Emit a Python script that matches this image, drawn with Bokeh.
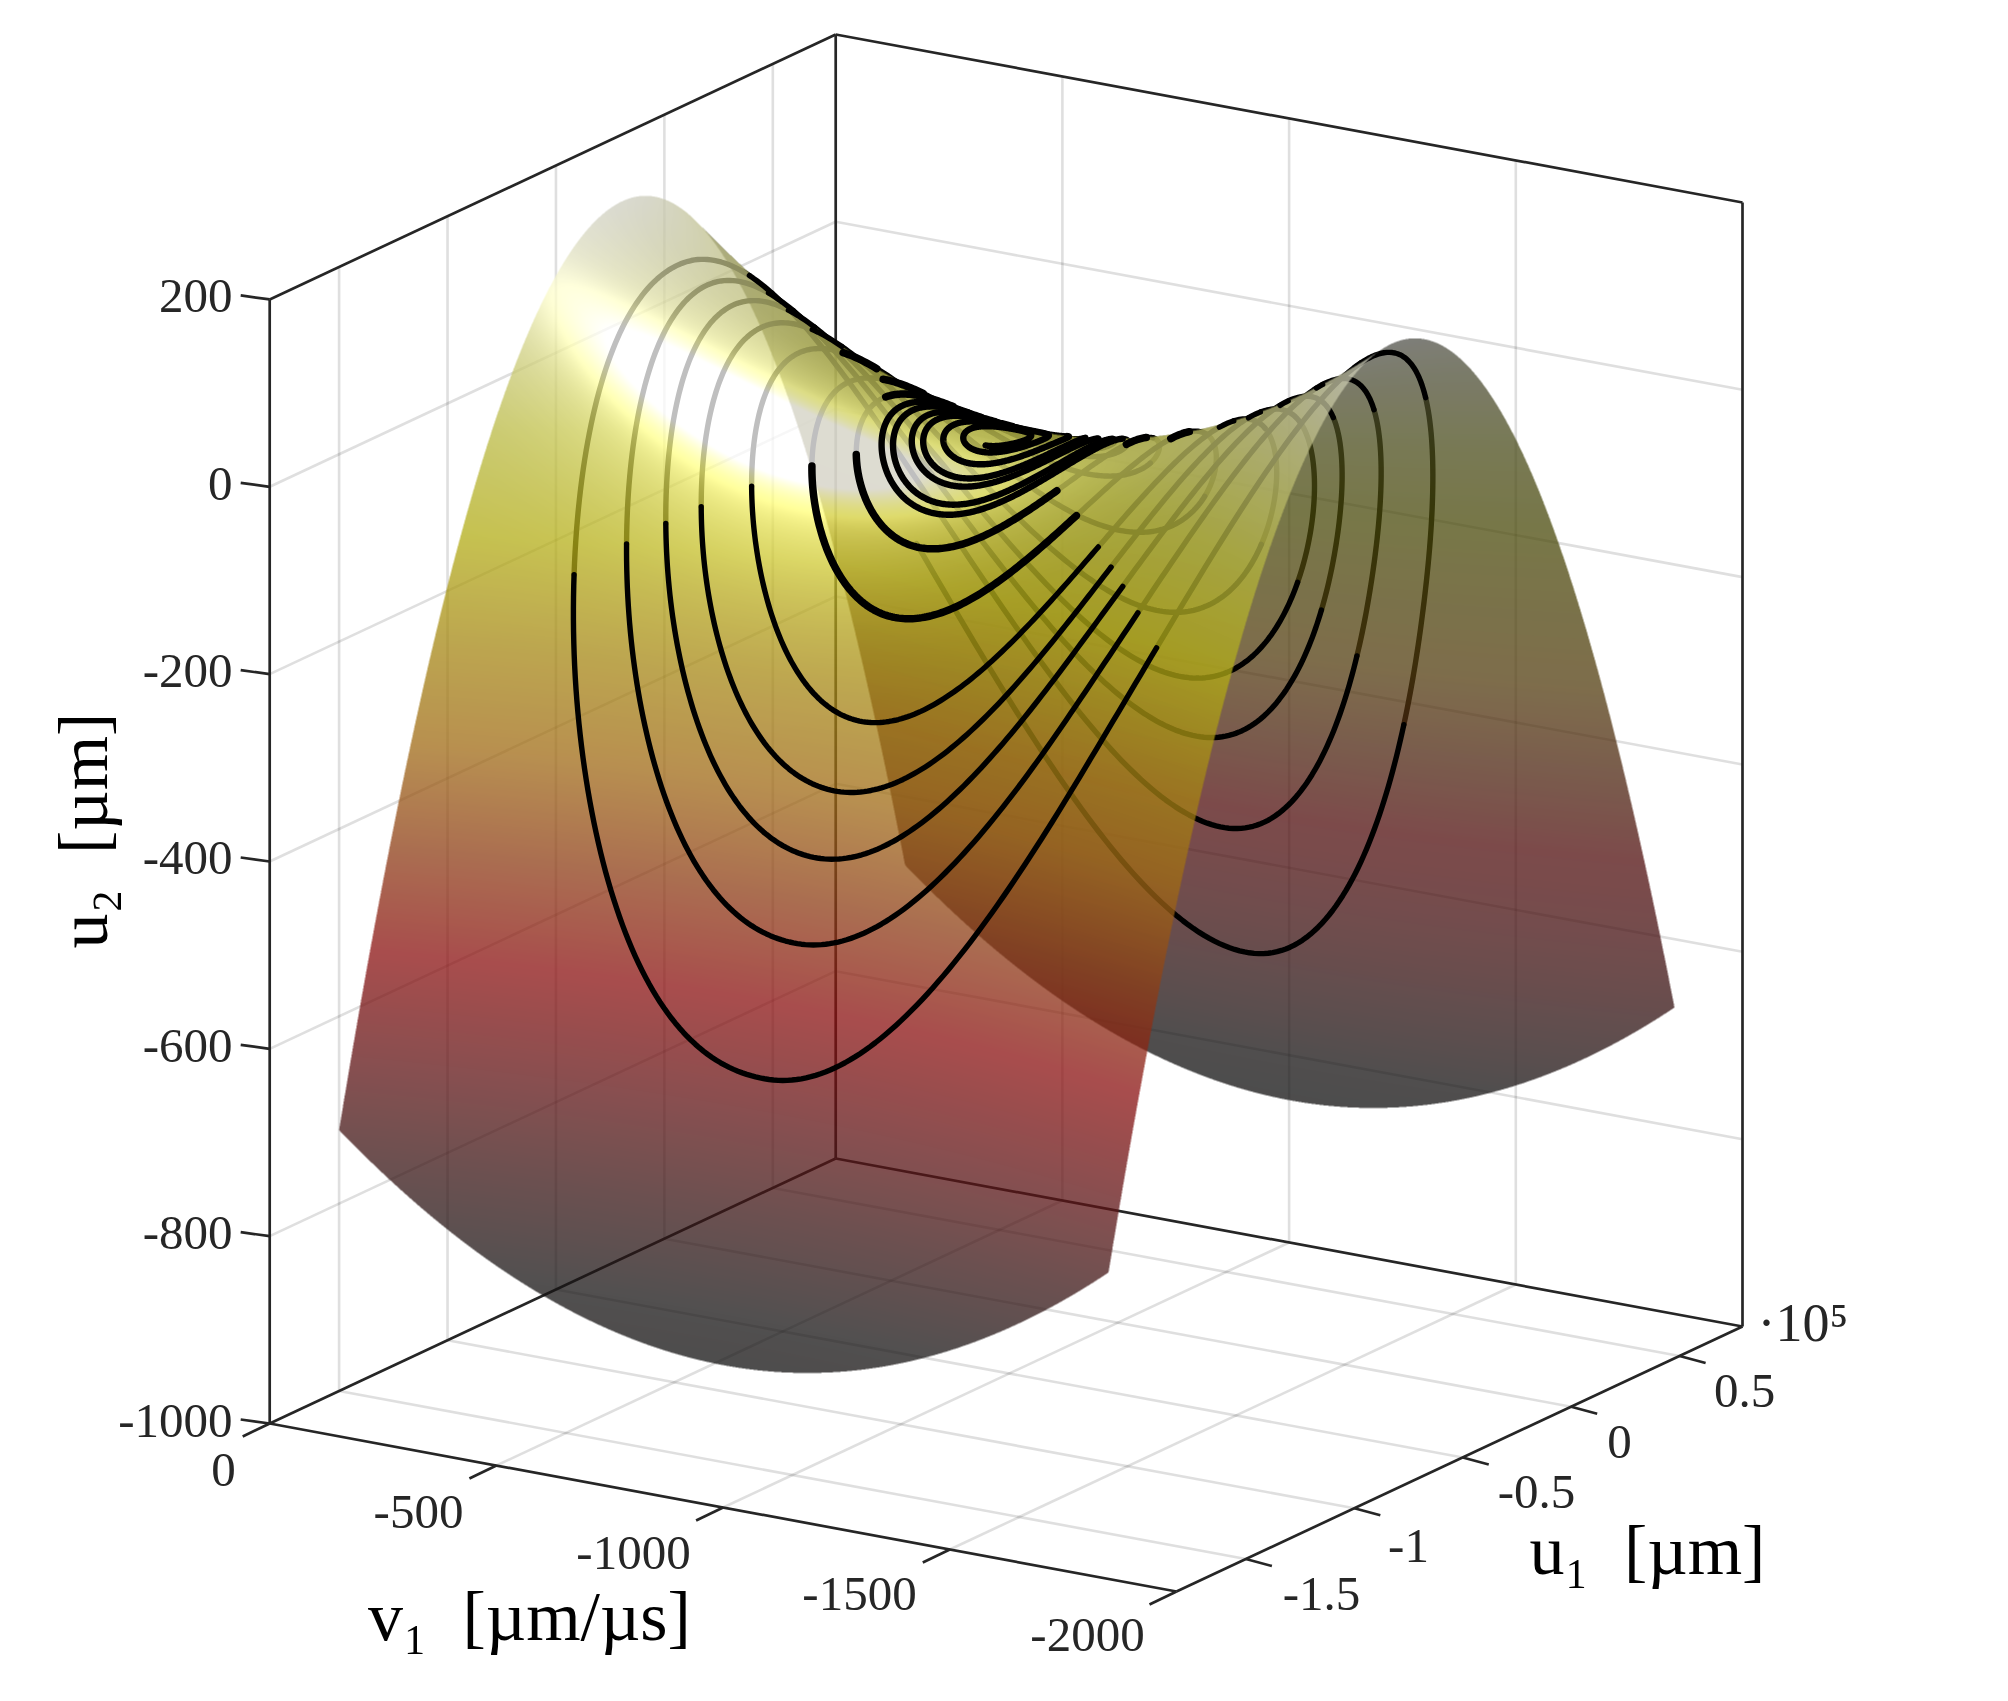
import numpy as np
from bokeh.plotting import figure
from bokeh.core.properties import value
from bokeh.embed import file_html
from bokeh.resources import INLINE

# ---- axis values -------------------------------------------------------
u2_ticks = [200, 0, -200, -400, -600, -800, -1000]
v1_ticks = [0, -500, -1000, -1500, -2000]
u1_ticks = [-1.5, -1.0, -0.5, 0.0, 0.5]          # x 1e5
u2_labels = ["200", "0", "-200", "-400", "-600", "-800", "-1000"]
v1_labels = ["0", "-500", "-1000", "-1500", "-2000"]
u1_labels = ["-1.5", "-1", "-0.5", "0", "0.5"]
u1_lim = (-1.82, 0.79)
v1_lim = (0.0, -2000.0)
u2_lim = (-1000.0, 200.0)

# ---- surface: u2 = ridge(u1) + dip(v1) ----------------------------------
surf_u1 = [-1.82, -1.559, -1.298, -1.037, -0.776, -0.515, -0.254, 0.007, 0.268, 0.529, 0.79]
surf_ridge = [-673, -367, -129, 41, 143, 177, 143, 41, -129, -367, -673]
surf_v1 = [-153, -323, -492, -662, -832, -1001, -1171, -1341, -1510, -1680, -1850]
surf_dip = [0, -63, -112, -147, -168, -175, -168, -147, -112, -63, 0]

# surface colour by height
cmap_u2 = [-900, -800, -700, -600, -500, -400, -300, -200, -100, 0, 100, 200]
cmap_r = [13, 24, 59, 99, 139, 142, 160, 166, 178, 181, 190, 208]
cmap_g = [13, 21, 23, 20, 17, 61, 106, 136, 172, 181, 190, 208]
cmap_b = [13, 21, 23, 21, 17, 22, 21, 20, 22, 64, 130, 208]
far_u2 = [-900, -700, -500, -300, -100, 200]
far_gain = [1.0, 0.8, 0.58, 0.52, 0.42, 0.41]
far_lift = [0, 1, 5, 5, 2, 0]

# ---- trajectory on the surface: radius read every 45 deg of its turning --
orbit_start_deg = -45.0
orbit_radius = [
    .45,
    .447, .425, .445, .42, .41, .43, .38, .385,
    .395, .375, .39, .37, .36, .375, .35, .352,
    .352, .338, .345, .33, .325, .335, .32, .32,
    .32, .313, .306, .30, .295, .30, .285, .282,
    .28, .275, .27, .265, .26, .25, .24, .23,
    .22, .215, .21, .205, .20, .19, .18, .17,
    .16, .158, .155, .152, .15, .145, .14, .135,
    .13, .127, .125, .122, .12, .119, .118, .116,
    .115, .114, .113, .111, .11, .108, .105, .102,
    .10, .098, .095, .092, .09, .089, .088, .086,
    .085, .084, .083, .081, .08, .078, .075, .072,
    .07, .068, .065, .062, .06, .058, .055, .052,
    .05, .048, .045, .042, .04, .038, .036, .034,
    .032, .03, .03, .028, .028]
orbit_u1_centre, orbit_v1_centre = -0.515, -989.0
orbit_u1_half, orbit_v1_half = 2.61, 1835.0

# ---- page mapping: the 3D box as it stands in the picture ---------------
X0, Y0 = 270.2, 1424.0      # corner v1=0, u1=min, u2=-1000
VX, VY = 906.8, 168.0       # full length of v1 axis
UX, UY = 566.0, -265.0      # full length of u1 axis
ZK = 0.9367                 # px per u2 unit

def proj(u1, v1, u2):
    a = (np.asarray(u1, float) - u1_lim[0]) / (u1_lim[1] - u1_lim[0])
    b = np.asarray(v1, float) / v1_lim[1]
    return X0 + VX * b + UX * a, -(Y0 + VY * b + UY * a - ZK * (np.asarray(u2, float) - u2_lim[0]))

W, H = 1992, 1685
p = figure(width=W, height=H, x_range=(1, 1 + W), y_range=(-(1 + H), -1),
           output_backend="svg", toolbar_location=None, min_border=0)
p.axis.visible = False
p.grid.visible = False
p.outline_line_color = None
p.background_fill_color = "white"

INK = "#262626"

def seg(a, b, **kw):
    x0, y0 = proj(*a)
    x1, y1 = proj(*b)
    p.line([float(x0), float(x1)], [float(y0), float(y1)], **kw)

GRID = dict(line_color=INK, line_alpha=0.15, line_width=2.6)
ulo, uhi = u1_lim
vlo, vhi = v1_lim
zlo, zhi = u2_lim
for z in u2_ticks[:-1]:
    if z == 200:
        continue
    seg((ulo, 0, z), (uhi, 0, z), **GRID)
    seg((uhi, 0, z), (uhi, vhi, z), **GRID)
for u in u1_ticks:
    seg((u, 0, zlo), (u, 0, zhi), **GRID)
    seg((u, 0, zlo), (u, vhi, zlo), **GRID)
for v in v1_ticks[1:-1]:
    seg((uhi, v, zlo), (uhi, v, zhi), **GRID)
    seg((ulo, v, zlo), (uhi, v, zlo), **GRID)

AX = dict(line_color=INK, line_width=2.7)
for a, b in [((ulo, 0, zlo), (ulo, 0, zhi)), ((ulo, 0, zhi), (uhi, 0, zhi)),
             ((uhi, 0, zhi), (uhi, vhi, zhi)), ((uhi, vhi, zhi), (uhi, vhi, zlo)),
             ((uhi, 0, zhi), (uhi, 0, zlo)), ((ulo, 0, zlo), (uhi, 0, zlo)),
             ((uhi, 0, zlo), (uhi, vhi, zlo)), ((ulo, 0, zlo), (ulo, vhi, zlo)),
             ((ulo, vhi, zlo), (uhi, vhi, zlo))]:
    seg(a, b, **AX)

# ---- tick marks ---------------------------------------------------------
for z in u2_ticks:
    x, y = proj(ulo, 0, z)
    p.line([float(x), float(x) - 29], [float(y), float(y) + 4], **AX)
for v in v1_ticks:
    x, y = proj(ulo, v, zlo)
    p.line([float(x), float(x) - 27], [float(y), float(y) - 13], **AX)
for u in u1_ticks:
    x, y = proj(u, vhi, zlo)
    p.line([float(x), float(x) + 26], [float(y), float(y) - 7], **AX)

# ---- quadratic coefficients of the surface, fitted to the read tables ----
sg = (np.array(surf_u1) - surf_u1[0]) / (surf_u1[-1] - surf_u1[0])
tg = (np.array(surf_v1) - surf_v1[0]) / (surf_v1[-1] - surf_v1[0])
h2, h1, h0 = np.polyfit(sg, surf_ridge, 2)
g2, g1, g0 = np.polyfit(tg, surf_dip, 2)
h0 = h0 + g0

ax0, ay0 = proj(surf_u1[0], surf_v1[0], 0.0)
ax1, ay1 = proj(surf_u1[-1], surf_v1[0], 0.0)
bx1, by1 = proj(surf_u1[0], surf_v1[-1], 0.0)
PX0, PY0 = float(ax0), -float(ay0)
Ua, Uc = float(ax1 - ax0), -float(ay1 - ay0)
Vb, Vd = float(bx1 - ax0), -float(by1 - ay0)
e = Ua / Vb

def colours(z):
    return (np.interp(z, cmap_u2, cmap_r), np.interp(z, cmap_u2, cmap_g), np.interp(z, cmap_u2, cmap_b))

def surface_layers(xmin, xmax, ymin, ymax, ss=2):
    xs = xmin + (np.arange((xmax - xmin) * ss) + 0.5) / ss
    ys = ymin + (np.arange((ymax - ymin) * ss) + 0.5) / ss
    XX, YY = np.meshgrid(xs, ys)
    tau = (XX - PX0) / Vb
    Q2 = -ZK * (h2 + g2 * e * e)
    Q1 = Uc - Vd * e - ZK * h1 + ZK * g1 * e + 2 * ZK * g2 * tau * e
    Q0 = PY0 + Vd * tau - ZK * h0 - ZK * g1 * tau - ZK * g2 * tau * tau - YY
    D = Q1 * Q1 - 4 * Q2 * Q0
    ok = D >= 0
    root = np.sqrt(np.where(ok, D, 0.0))
    out = []
    for sign in (-1.0, 1.0):
        s = (-Q1 + sign * root) / (2 * Q2)
        t = tau - e * s
        m = ok & (s >= 0) & (s <= 1) & (t >= 0) & (t <= 1)
        z = h0 + h1 * s + h2 * s * s + g1 * t + g2 * t * t
        r, g, b = colours(z)
        if sign < 0:
            s0 = 0.37 + 0.09 * t
            glare = (1.5 * 255 * np.exp(-((s - s0) / 0.03) ** 2) * np.exp(-((t - 0.27) / 0.17) ** 2)
                     + 0.38 * 255 * np.exp(-((s - s0) / 0.08) ** 2) * np.exp(-((t - 0.32) / 0.28) ** 2))
            r, g, b = np.minimum(r + glare, 255), np.minimum(g + glare, 255), np.minimum(b + glare, 255)
        else:
            f = np.interp(z, far_u2, far_gain)
            lift = np.interp(z, far_u2, far_lift)
            r, g, b = r * f, g * f + lift, b * f + lift
        a = m * 0.75
        stack = np.stack([r * a, g * a, b * a, a], axis=-1)
        h_, w_ = stack.shape[:2]
        stack = stack.reshape(h_ // ss, ss, w_ // ss, ss, 4).mean(axis=(1, 3))
        alpha = stack[..., 3]
        safe = np.where(alpha > 0, alpha, 1.0)
        rgba = np.zeros(alpha.shape + (4,), dtype=np.uint8)
        for i in range(3):
            rgba[..., i] = np.clip(stack[..., i] / safe, 0, 255).astype(np.uint8)
        rgba[..., 3] = np.clip(alpha * 255, 0, 255).astype(np.uint8)
        out.append(rgba)
    return out

bx0_, bx1_, by0_, by1_ = 320, 1700, 180, 1390
near_img, far_img = surface_layers(bx0_, bx1_, by0_, by1_)

def add_image(rgba):
    flat = rgba[::-1].copy()
    view = np.frombuffer(flat.tobytes(), dtype=np.uint32).reshape(flat.shape[:2]).copy()
    p.image_rgba(image=[view], x=[bx0_], y=[-by1_], dw=[bx1_ - bx0_], dh=[by1_ - by0_])

# ---- trajectory: a smooth stroke through the read radii ------------------
def smooth_through(q, nodes, vals):
    # Catmull-Rom between the read nodes, so the stroke has no corners
    v = np.asarray(vals, float)
    step = nodes[1] - nodes[0]
    i = np.clip(((q - nodes[0]) / step).astype(int), 0, len(v) - 2)
    f = (q - nodes[i]) / step
    vm = v[np.maximum(i - 1, 0)]
    v0 = v[i]
    v1 = v[i + 1]
    v2 = v[np.minimum(i + 2, len(v) - 1)]
    return 0.5 * (2 * v0 + (v1 - vm) * f + (2 * vm - 5 * v0 + 4 * v1 - v2) * f ** 2 + (3 * v0 - vm - 3 * v1 + v2) * f ** 3)

angle_nodes = orbit_start_deg + 45.0 * np.arange(len(orbit_radius))
theta = np.arange(-45.0, angle_nodes[-1], 0.75)
rad = smooth_through(theta, angle_nodes, orbit_radius)
u1o = orbit_u1_centre + orbit_u1_half * rad * np.cos(np.radians(theta))
v1o = orbit_v1_centre - orbit_v1_half * rad * np.sin(np.radians(theta))
so = (u1o - surf_u1[0]) / (surf_u1[-1] - surf_u1[0])
to = (v1o - surf_v1[0]) / (surf_v1[-1] - surf_v1[0])
zo = h0 + h1 * so + h2 * so * so + g1 * to + g2 * to * to
xo, yo = proj(u1o, v1o, zo)
tauo = (xo - PX0) / Vb
slope = 2 * (-ZK * (h2 + g2 * e * e)) * so + (Uc - Vd * e - ZK * h1 + ZK * g1 * e + 2 * ZK * g2 * tauo * e)
is_near = slope < 0
ang = np.mod(theta, 360.0)
big = rad >= 0.14
under_far = big & (ang >= 35) & (ang < 71)
under_near = big & (((ang >= 92) & (ang < 124)) | ((ang >= 232) & (ang < 284)))
cls = np.where(is_near, np.where(under_near, 2, 3), np.where(under_far, 0, 1))

def runs(c):
    xs, ys, ws = [], [], []
    idx = np.where(cls == c)[0]
    if len(idx) == 0:
        return xs, ys, ws
    for part in np.split(idx, np.where(np.diff(idx) > 1)[0] + 1):
        j = list(part)
        if j[-1] + 1 < len(xo):
            j.append(j[-1] + 1)
        xs.append(xo[j].tolist())
        ys.append(yo[j].tolist())
        mid = float(np.median(rad[j]))
        ws.append(7.5 if c == 3 and 0.12 <= mid <= 0.24 else (6.4 if c == 3 and mid < 0.12 else 5.4))
    return xs, ys, ws

LINE = dict(line_color="black", line_join="round", line_cap="round")
def draw(c):
    xs, ys, ws = runs(c)
    p.multi_line(xs, ys, line_width=ws, **LINE)
draw(0)
add_image(far_img)
draw(1)
draw(2)
add_image(near_img)
draw(3)

# ---- texts ---------------------------------------------------------------
SERIF = value("Liberation Serif")
TICK = dict(text_font=SERIF, text_font_size="49px", text_color=INK, text_baseline="middle")
u2_y = [-(Y0 - ZK * (z - zlo)) for z in u2_ticks]
p.text([233] * len(u2_ticks), [y + 3 for y in u2_y], text=u2_labels, text_align="right", **TICK)
p.text([224, 419, 634, 860, 1088], [-1470, -1512, -1553, -1594, -1635], text=v1_labels, text_align="center", **TICK)
p.text([1322, 1409, 1537, 1620, 1745], [-1594, -1546, -1492, -1442, -1391], text=u1_labels, text_align="center", **TICK)
p.text([1758], [-1323], text=["·10⁵"], text_align="left", text_font=SERIF, text_font_size="54px",
       text_color=INK, text_baseline="middle")
LAB = dict(text_font=SERIF, text_font_size="70px", text_color="black", text_baseline="middle", text_align="center")
NB = "\u00a0\u00a0"
p.text([530], [-1617], text=["v₁" + NB + "[µm/µs]"], **LAB)
p.text([1648], [-1551], text=["u₁" + NB + "[µm]"], **LAB)
p.text([84], [-831], text=["u₂" + NB + "[µm]"], angle=[np.pi / 2], **LAB)

open("out.html", "w").write(file_html(p, INLINE))
